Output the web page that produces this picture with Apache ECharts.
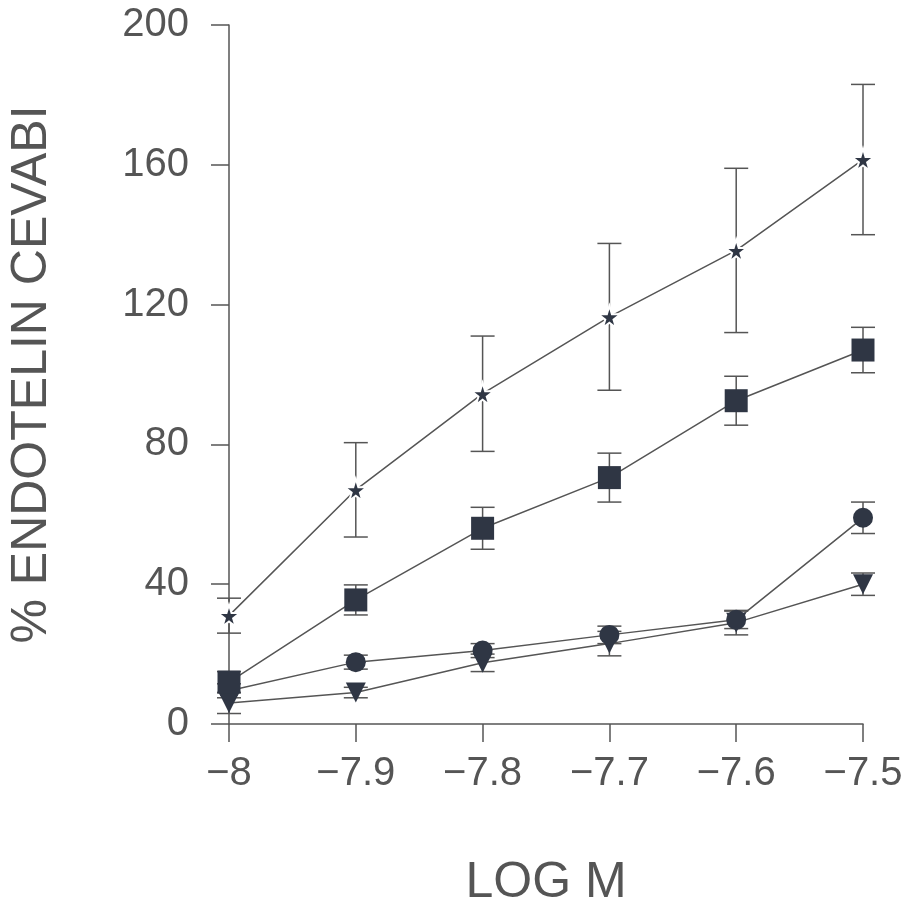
<!DOCTYPE html>
<html>
<head>
<meta charset="utf-8">
<script src="https://cdn.jsdelivr.net/npm/echarts@6/dist/echarts.min.js"></script>
<style>html,body{margin:0;padding:0;background:#fff;}#c{width:905px;height:900px;}</style>
</head>
<body>
<div id="c"></div>
<script>
const logM = [-8, -7.9, -7.8, -7.7, -7.6, -7.5];
const yTicks = [0, 40, 80, 120, 160, 200];
const starMean = [31, 67, 94.5, 116.5, 135.5, 161.5];
const starErr = [5, 13.5, 16.5, 21, 23.5, 21.5];
const squareMean = [12, 35.5, 56, 70.5, 92.5, 107];
const squareErr = [3, 4.3, 6, 7, 7, 6.5];
const circleMean = [9.5, 17.7, 21, 25.5, 29.8, 59];
const circleErr = [2, 2, 2, 2.5, 2.5, 4.5];
const triangleMean = [6, 9, 17.5, 23, 29, 40];
const triangleErr = [3, 1.5, 2.5, 3.5, 3.5, 3.2];

const ink = '#555';
const markColor = '#2f3644';
const font = 'Liberation Sans';
const starPath = 'path://M50,0 L61,35 L98,35 L68,57 L79,91 L50,70 L21,91 L32,57 L2,35 L39,35 Z';

function pairs(ys) { return logM.map((x, i) => [x, ys[i]]); }
function errData(mean, err) { return logM.map((x, i) => [x, mean[i] - err[i], mean[i] + err[i]]); }

function errSeries(mean, err) {
  return {
    type: 'custom',
    data: errData(mean, err),
    z: 1,
    renderItem: function (params, api) {
      const x = api.value(0);
      const lo = api.coord([x, api.value(1)]);
      const hi = api.coord([x, api.value(2)]);
      const w = 12;
      const st = { stroke: ink, lineWidth: 1.5 };
      return {
        type: 'group',
        children: [
          { type: 'line', shape: { x1: lo[0], y1: lo[1], x2: hi[0], y2: hi[1] }, style: st },
          { type: 'line', shape: { x1: lo[0] - w, y1: lo[1], x2: lo[0] + w, y2: lo[1] }, style: st },
          { type: 'line', shape: { x1: hi[0] - w, y1: hi[1], x2: hi[0] + w, y2: hi[1] }, style: st }
        ]
      };
    }
  };
}

function lineSeries(mean, symbol, size, extra) {
  return Object.assign({
    type: 'line',
    data: pairs(mean),
    symbol: symbol,
    symbolSize: size,
    z: 3,
    lineStyle: { color: ink, width: 1.5 },
    itemStyle: { color: markColor },
    emphasis: { disabled: true }
  }, extra || {});
}

const chart = echarts.init(document.getElementById('c'), null, { renderer: 'canvas' });
chart.setOption({
  animation: false,
  backgroundColor: '#fff',
  grid: { left: 229, right: 42, top: 25, bottom: 176, containLabel: false, outerBoundsMode: 'none' },
  xAxis: {
    type: 'value',
    min: -8, max: -7.5, interval: 0.1,
    name: 'LOG M',
    nameLocation: 'middle',
    nameGap: 134,
    nameTextStyle: { fontFamily: font, fontSize: 50, color: ink, verticalAlign: 'top' },
    axisLine: { show: true, lineStyle: { color: ink, width: 1.5 } },
    axisTick: { show: true, inside: false, length: 18, lineStyle: { color: ink, width: 1.5 } },
    axisLabel: {
      margin: 30, fontFamily: font, fontSize: 40, color: ink,
      formatter: v => '\u2212' + String(+Math.abs(v).toFixed(1))
    },
    splitLine: { show: false }
  },
  yAxis: {
    type: 'value',
    min: 0, max: 200, interval: 40,
    name: '% ENDOTELIN CEVABI',
    nameLocation: 'middle',
    nameGap: 172,
    nameTextStyle: { fontFamily: font, fontSize: 50, color: ink },
    axisLine: { show: true, lineStyle: { color: ink, width: 1.5 } },
    axisTick: { show: true, inside: false, length: 18, lineStyle: { color: ink, width: 1.5 } },
    axisLabel: {
      margin: 40, fontFamily: font, fontSize: 40, color: ink,
      formatter: v => yTicks.includes(v) ? String(v) : ''
    },
    splitLine: { show: false }
  },
  series: [
    errSeries(starMean, starErr),
    errSeries(squareMean, squareErr),
    errSeries(circleMean, circleErr),
    errSeries(triangleMean, triangleErr),
    lineSeries(triangleMean, 'triangle', 20, { symbolRotate: 180 }),
    lineSeries(circleMean, 'circle', 20),
    lineSeries(squareMean, 'rect', 23),
    lineSeries(starMean, starPath, 22, { itemStyle: { color: markColor, borderColor: '#fff', borderWidth: 2 } })
  ]
});
</script>
</body>
</html>
